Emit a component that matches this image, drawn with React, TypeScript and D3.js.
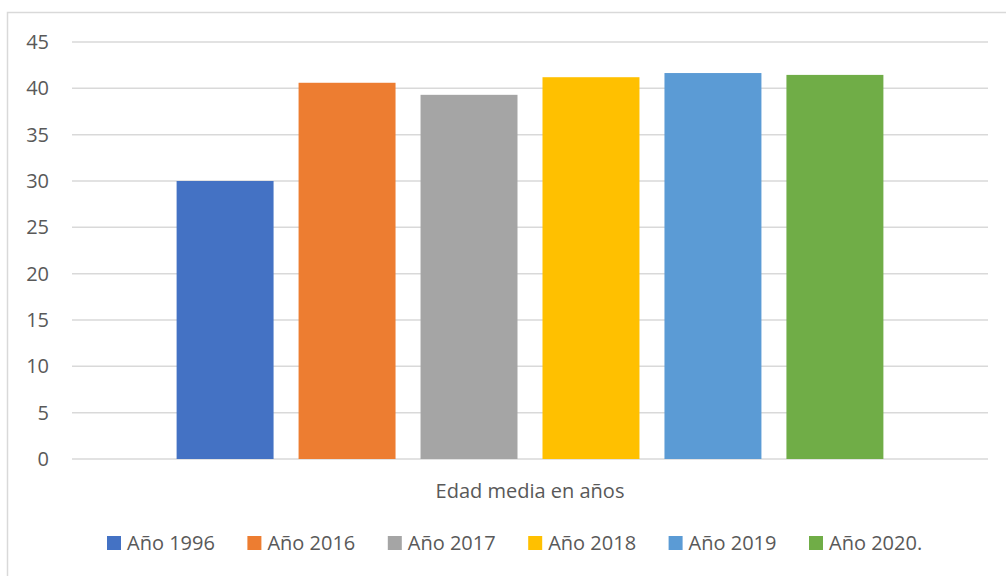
import React from "react";
import * as d3 from "d3";

const seriesNames = ["Año 1996", "Año 2016", "Año 2017", "Año 2018", "Año 2019", "Año 2020."];
const seriesValues = [30.0, 40.6, 39.3, 41.2, 41.65, 41.45];
const seriesColors = ["#4472C4", "#ED7D31", "#A5A5A5", "#FFC000", "#5B9BD5", "#70AD47"];
const categoryLabel = "Edad media en años";
const yTicks = [0, 5, 10, 15, 20, 25, 30, 35, 40, 45];

const W = 1006;
const H = 576;
const plotLeft = 72;
const plotRight = 988;
const plotTop = 42;
const plotBottom = 459;
const font = "'Open Sans', 'Liberation Sans', sans-serif";
const textColor = "#595959";

export default function App() {
  const y = d3.scaleLinear().domain([0, 45]).range([plotBottom, plotTop]);
  const x0 = d3.scaleBand<string>().domain([categoryLabel]).range([plotLeft, plotRight]).paddingInner(0).paddingOuter(0.148);
  const groupStart = x0(categoryLabel)!;
  const groupWidth = x0.bandwidth();
  const x1 = d3.scaleBand<string>().domain(seriesNames).range([groupStart, groupStart + groupWidth]).paddingInner(0.205).paddingOuter(0);
  const legendX = d3.scalePoint<string>().domain(seriesNames).range([107, 809]);

  return (
    <svg width={W} height={H} style={{ position: "absolute", left: 0, top: 0, background: "#fff" }}>
      <rect x={7.5} y={12.5} width={1010} height={580} fill="#fff" stroke="#d9d9d9" strokeWidth={1.5} />
      {yTicks.map((t) => (
        <g key={t}>
          <line x1={plotLeft} x2={plotRight} y1={y(t)} y2={y(t)} stroke="#d9d9d9" strokeWidth={1.5} />
          <text x={49} y={y(t)} dy="0.35em" textAnchor="end" fontFamily={font} fontSize={20} fill={textColor}>
            {t}
          </text>
        </g>
      ))}
      {seriesNames.map((s, i) => (
        <rect key={s} x={x1(s)} y={y(seriesValues[i])} width={x1.bandwidth()} height={y(0) - y(seriesValues[i])} fill={seriesColors[i]} />
      ))}
      <text x={(plotLeft + plotRight) / 2} y={491} dy="0.35em" textAnchor="middle" fontFamily={font} fontSize={20} fill={textColor}>
        {categoryLabel}
      </text>
      {seriesNames.map((s, i) => (
        <g key={s} transform={`translate(${legendX(s)},543)`}>
          <rect x={0} y={-7} width={14} height={14} fill={seriesColors[i]} />
          <text x={20} y={0} dy="0.35em" fontFamily={font} fontSize={20} fill={textColor}>
            {s}
          </text>
        </g>
      ))}
    </svg>
  );
}
